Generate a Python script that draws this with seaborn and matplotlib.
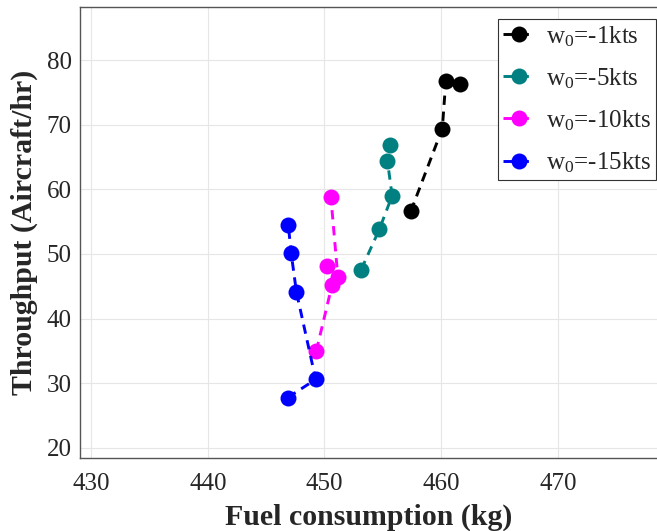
import matplotlib
matplotlib.use("Agg")
import matplotlib.pyplot as plt
from matplotlib.lines import Line2D
from matplotlib.legend_handler import HandlerLine2D
import numpy as np
import seaborn as sns
import pandas as pd

# Fuel consumption (kg) and throughput (aircraft/hr) per headwind case
fuel_w1 = [457.4, 460.1, 460.4, 461.6]
thru_w1 = [56.6, 69.4, 76.8, 76.3]

fuel_w5 = [453.15, 454.7, 455.8, 455.4, 455.65]
thru_w5 = [47.6, 53.8, 59.0, 64.4, 66.8]

fuel_w10 = [449.3, 450.65, 450.25, 451.15, 450.55]
thru_w10 = [35.0, 45.2, 48.1, 46.4, 58.8]

fuel_w15 = [446.85, 449.25, 447.6, 447.15, 446.9]
thru_w15 = [27.8, 30.6, 44.1, 50.1, 54.5]

series_labels = [r"w$_{0}$=-1kts", r"w$_{0}$=-5kts", r"w$_{0}$=-10kts", r"w$_{0}$=-15kts"]
series_colors = ["#000000", "#008080", "#ff00ff", "#0000ff"]

x_ticks = [430, 440, 450, 460, 470]
y_ticks = [20, 30, 40, 50, 60, 70, 80]


class OffsetMarkerHandler(HandlerLine2D):
    """Legend line with its marker drawn toward the right end of the handle."""

    def get_xdata(self, legend, xdescent, ydescent, width, height, fontsize):
        xdata = np.array([-xdescent, -xdescent + width])
        return xdata, np.array([-xdescent + 0.75 * width])


sns.set_theme(style="whitegrid")
plt.rcParams["font.family"] = ["Liberation Serif", "DejaVu Serif"]
plt.rcParams["mathtext.fontset"] = "custom"
plt.rcParams["mathtext.rm"] = "Liberation Serif"
plt.rcParams["mathtext.it"] = "Liberation Serif:italic"
plt.rcParams["mathtext.bf"] = "Liberation Serif:bold"

fig = plt.figure(figsize=(6.57, 5.31), dpi=100)
ax = fig.add_axes([80 / 657, 1 - 458 / 531, 1 - 80 / 657, (458 - 7) / 531])

groups = [
    (fuel_w1, thru_w1),
    (fuel_w5, thru_w5),
    (fuel_w10, thru_w10),
    (fuel_w15, thru_w15),
]

for (fx, ty), label, color in zip(groups, series_labels, series_colors):
    df = pd.DataFrame({"fuel": fx, "throughput": ty})
    sns.lineplot(
        data=df, x="fuel", y="throughput", sort=False, ax=ax,
        color=color, label=label, linestyle=(0, (3.2, 2.3)), linewidth=2.1,
        marker="o", markersize=11.5, markeredgecolor=color, markeredgewidth=0,
    )

ax.set_xlim(429.05, 478.5)
ax.set_ylim(18.45, 88.2)
ax.set_xticks(x_ticks)
ax.set_yticks(y_ticks)
ax.tick_params(axis="both", labelsize=18, colors="#555555", labelcolor="#262626",
               direction="in", length=4, width=0.8)
ax.tick_params(axis="x", pad=11)
ax.tick_params(axis="y", pad=6)

ax.grid(True, color="#e6e6e6", linewidth=0.8)
ax.set_facecolor("white")
for side in ["left", "bottom", "top"]:
    ax.spines[side].set_visible(True)
    ax.spines[side].set_color("#555555")
    ax.spines[side].set_linewidth(1.0)
ax.spines["right"].set_visible(False)

ax.set_xlabel("Fuel consumption (kg)", fontsize=21.5, fontweight="bold",
              color="#262626", labelpad=6)
ax.set_ylabel("Throughput (Aircraft/hr)", fontsize=21.5, fontweight="bold",
              color="#262626", labelpad=6)

handles, labels = ax.get_legend_handles_labels()
leg = ax.legend(
    handles, labels,
    handler_map={Line2D: OffsetMarkerHandler()},
    loc="upper right", bbox_to_anchor=(656 / 657, 1 - 19 / 531),
    bbox_transform=fig.transFigure, borderaxespad=0, fontsize=18,
    frameon=True, fancybox=False, framealpha=1, edgecolor="#333333",
    handlelength=1.28, handletextpad=0.45, labelspacing=0.7, borderpad=0.2,
)
leg.get_frame().set_linewidth(0.8)

fig.savefig("out.png", dpi=100)
